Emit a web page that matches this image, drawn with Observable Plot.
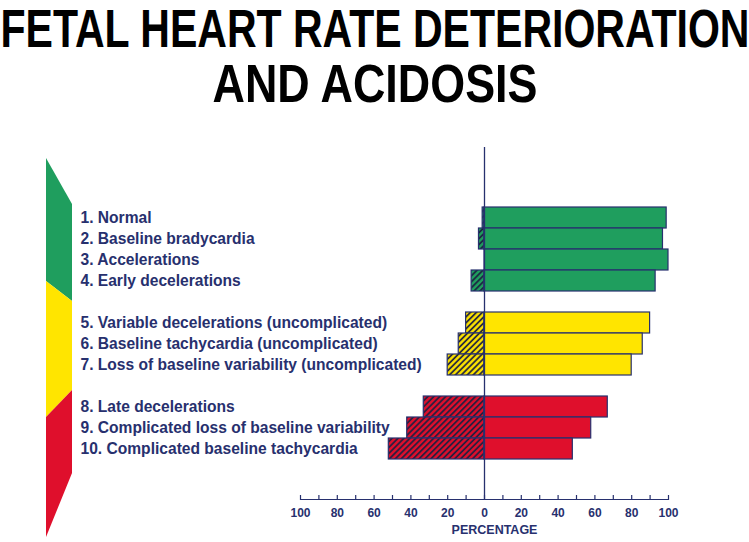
<!DOCTYPE html>
<html>
<head>
<meta charset="utf-8">
<script src="https://cdn.jsdelivr.net/npm/d3@7"></script>
<script src="https://cdn.jsdelivr.net/npm/@observablehq/plot@0.6"></script>
<style>
  html, body { margin: 0; padding: 0; background: #ffffff; }
  #wrap { width: 749px; height: 542px; position: relative; overflow: hidden; }
  #title { height: 140px; width: 749px; position: relative; font-family: "Liberation Sans", sans-serif; font-weight: bold; font-size: 53px; color: #000; }
  #title span { position: absolute; left: 50%; white-space: nowrap; line-height: 55px; }
  #t1 { top: 1px; }
  #t2 { top: 56px; }
  #chart svg { display: block; }
</style>
</head>
<body>
<div id="wrap">
  <div id="title"><span id="t1">FETAL HEART RATE DETERIORATION</span><span id="t2">AND ACIDOSIS</span></div>
  <div id="chart"></div>
</div>
<script>
// ---- data ----
const titleLines = ["FETAL HEART RATE DETERIORATION", "AND ACIDOSIS"];
const categories = [
  "1. Normal",
  "2. Baseline bradycardia",
  "3. Accelerations",
  "4. Early decelerations",
  "5. Variable decelerations (uncomplicated)",
  "6. Baseline tachycardia (uncomplicated)",
  "7. Loss of baseline variability (uncomplicated)",
  "8. Late decelerations",
  "9. Complicated loss of baseline variability",
  "10. Complicated baseline tachycardia"
];
const groups = ["green", "green", "green", "green", "yellow", "yellow", "yellow", "red", "red", "red"];
const positiveValues = [99, 97, 100, 93, 90, 86, 80, 67, 58, 48];
const negativeValues = [1, 3, 0, 7, 10, 14, 20, 33, 42, 52];
const tickValues = [-100, -80, -60, -40, -20, 0, 20, 40, 60, 80, 100];
const minorTicks = [-100, -90, -80, -70, -60, -50, -40, -30, -20, -10, 0, 10, 20, 30, 40, 50, 60, 70, 80, 90, 100];

const groupColors = {green: "#1f9e5e", yellow: "#ffe500", red: "#df0f2c"};
const navy = "#27306e";

// title: fit each line to the reference's width (condensed display face)
const titleWidths = [749, 325];
["t1", "t2"].forEach((id, i) => {
  const el = document.getElementById(id);
  el.textContent = titleLines[i];
  const w = el.getBoundingClientRect().width;
  el.style.transform = `translateX(-50%) scaleX(${titleWidths[i] / w})`;
});

const rows = categories.map((name, i) => ({name, group: groups[i], pos: positiveValues[i], neg: negativeValues[i]}));
// band domain with blank spacers between groups
const yDomain = [...categories.slice(0, 4), "gap1", ...categories.slice(4, 7), "gap2", ...categories.slice(7)];

const marks = [];
for (const g of ["green", "yellow", "red"]) {
  const sub = rows.filter(d => d.group === g);
  marks.push(Plot.barX(sub.filter(d => d.neg > 0), {x1: d => -d.neg, x2: 0, y: "name", fill: `url(#hatch-${g})`, stroke: navy, strokeWidth: 1.2, inset: 0}));
  marks.push(Plot.barX(sub, {x1: 0, x2: "pos", y: "name", fill: groupColors[g], stroke: navy, strokeWidth: 1.2, inset: 0}));
}

const chart = Plot.plot({
  width: 749,
  height: 402,
  marginLeft: 300,
  marginRight: 81,
  marginTop: 7,
  marginBottom: 42,
  style: {background: "transparent", fontFamily: "Liberation Sans, sans-serif"},
  x: {domain: [-100, 100], axis: null},
  y: {domain: yDomain, range: [66, 319], padding: 0, axis: null},
  marks: [
    ...marks,
    Plot.ruleX([0], {stroke: navy, strokeWidth: 1.3}),
    Plot.rect([0], {x1: -100, x2: 100, insetTop: 352, fill: navy}),
    Plot.tickX(minorTicks, {x: d => d, insetTop: 348, stroke: navy, strokeWidth: 1.2}),
    Plot.axisX({ticks: tickValues, tickFormat: d => Math.abs(d), tickSize: 0, tickPadding: 8, fontSize: 12, fontWeight: "bold", fill: navy, label: null}),
    Plot.text(["PERCENTAGE"], {x: 0, frameAnchor: "bottom", dy: 33, dx: 10, lineAnchor: "bottom", fontSize: 12.5, fontWeight: "bold", fill: navy}),
    Plot.text(rows, {y: "name", text: "name", frameAnchor: "left", textAnchor: "start", dx: -220, fontSize: 16.5, fontWeight: "bold", fill: navy})
  ]
});

// hatch patterns
const svg = d3.select(chart);
const defs = svg.insert("defs", ":first-child");
for (const g of ["green", "yellow", "red"]) {
  const p = defs.append("pattern").attr("id", `hatch-${g}`).attr("patternUnits", "userSpaceOnUse")
    .attr("width", 4.2).attr("height", 4.2).attr("patternTransform", "rotate(45)");
  p.append("rect").attr("width", 4.2).attr("height", 4.2).attr("fill", groupColors[g]);
  p.append("line").attr("x1", 1).attr("x2", 1).attr("y1", 0).attr("y2", 4.2).attr("stroke", "#1c1f40").attr("stroke-width", 1.7);
}

// condense the category labels horizontally (the reference uses a narrow face)
const labelGroups = new Set();
svg.selectAll("text").each(function() {
  if (categories.includes(this.textContent)) labelGroups.add(this.parentNode);
});
for (const gEl of labelGroups) {
  const prev = gEl.getAttribute("transform") || "";
  gEl.setAttribute("transform", `translate(80,0) scale(0.945,1) translate(-80,0) ${prev}`);
}

// decorative severity arrow on the left, anchored to the band positions
const y = chart.scale("y");
const bw = y.bandwidth;
const yTop = y.apply(categories[0]);
const yEnd = y.apply(categories[9]) + bw;
const yGreenEnd = y.apply(categories[3]) + bw;
const yRedStart = y.apply(categories[7]);
const xl = 46, xr = 72;
const deco = svg.insert("g", "defs + *");
deco.append("polygon").attr("fill", groupColors.green)
  .attr("points", [[xl, yTop - 49], [xr, yTop - 3], [xr, yGreenEnd + 10], [xl, yGreenEnd - 10]].join(" "));
deco.append("polygon").attr("fill", groupColors.yellow)
  .attr("points", [[xl, yGreenEnd - 10], [xr, yGreenEnd + 10], [xr, yRedStart - 6], [xl, yRedStart + 21]].join(" "));
deco.append("polygon").attr("fill", groupColors.red)
  .attr("points", [[xl, yRedStart + 21], [xr, yRedStart - 6], [xr, yEnd + 14], [xl, yEnd + 78]].join(" "));

document.getElementById("chart").appendChild(chart);
</script>
</body>
</html>
